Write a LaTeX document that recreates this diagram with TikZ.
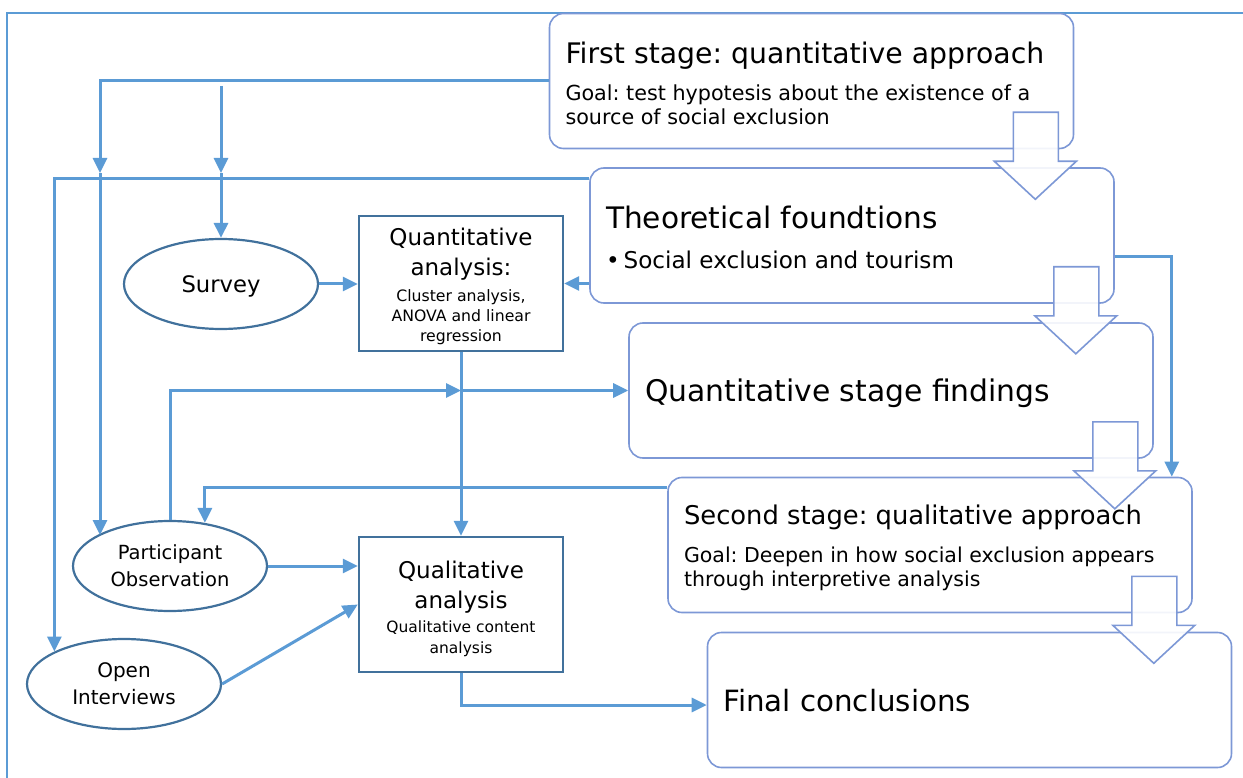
\documentclass[tikz,border=0pt]{standalone}
\usepackage{fontspec}
\setmainfont{DejaVu Sans}
\usepackage{tikz}
\usetikzlibrary{arrows.meta,shapes.geometric}
\definecolor{linkblue}{RGB}{91,155,213}
\definecolor{boxline}{RGB}{125,152,214}
\definecolor{darkline}{RGB}{65,113,156}
\frenchspacing
\newcommand{\stagedown}[1]{\draw[stagearrow] ([xshift=-61pt,yshift=37pt]#1.south east) -- ([xshift=-61pt,yshift=-12pt]#1.south east) -- ([xshift=-80pt,yshift=-12pt]#1.south east) -- ([xshift=-39pt,yshift=-50pt]#1.south east) -- ([xshift=2pt,yshift=-12pt]#1.south east) -- ([xshift=-16pt,yshift=-12pt]#1.south east) -- ([xshift=-16pt,yshift=37pt]#1.south east) -- cycle;}

\begin{document}
\begin{tikzpicture}[x=1pt,y=-1pt]
            \tikzstyle{stagebox}=[draw=boxline, line width=1.6pt, rounded corners=14pt, fill=white, minimum width=524pt, minimum height=135pt, text width=492pt, inner xsep=16pt, align=flush left]
            \tikzstyle{method}=[draw=darkline, line width=2.2pt, ellipse, minimum width=194pt, minimum height=90pt, inner sep=0pt, align=center, font=\fontsize{19.5}{27}\selectfont]
            \tikzstyle{analysis}=[draw=darkline, line width=2.4pt, minimum width=204pt, minimum height=135pt, text width=200pt, inner sep=2pt, align=flush center]
            \tikzstyle{link}=[draw=linkblue, line width=3pt, -{Triangle[length=15pt,width=14pt]}]
            \tikzstyle{stagearrow}=[draw=boxline, line width=1.6pt, fill=white, fill opacity=0.9]
            \useasboundingbox (0,0) rectangle (1243,778);
            \draw[linkblue, line width=2pt] (7,778) -- (7,13) -- (1243,13);
            \node[stagebox] (first) at (811.5,81) {{\fontsize{28.3}{32}\selectfont \rule{0pt}{25.5pt}First stage: quantitative approach\par}\vspace{13pt}{\fontsize{20.7}{24}\selectfont Goal: test hypotesis about the existence of a source of social exclusion\par}};
            \node[stagebox] (theo) at (852,235.5) {{\fontsize{29.6}{34}\selectfont \rule{0pt}{26.5pt}Theoretical foundtions\par}\vspace{13pt}{\fontsize{23.1}{27}\selectfont \textbullet\hspace{4pt}Social exclusion and tourism\par}};
            \node[stagebox, text depth=0pt] (finds) at (891,390.5) {{\fontsize{29.8}{34}\selectfont Quantitative stage findings\par}};
            \node[stagebox] (second) at (930,545) {{\fontsize{25.8}{30}\selectfont \rule{0pt}{25.6pt}Second stage: qualitative approach\par}\vspace{14pt}{\fontsize{20.5}{24}\selectfont Goal: Deepen in how social exclusion appears through interpretive analysis\par}};
            \node[stagebox, text depth=0pt] (final) at (969.5,700) {{\fontsize{29.3}{34}\selectfont Final conclusions\par}};
            \node[analysis] (quant) at (461,283.5) {{\fontsize{23}{30}\selectfont \rule{0pt}{23.5pt}Quantitative\\analysis:\par}\vspace{6pt}{\fontsize{15.7}{20}\selectfont Cluster analysis,\\ANOVA and linear\\regression\par}};
            \node[analysis] (qual) at (461,604.5) {{\fontsize{23}{30}\selectfont \rule{0pt}{25.5pt}Qualitative\\analysis\par}\vspace{3pt}{\fontsize{15.5}{21}\selectfont Qualitative content\\analysis\par}};
            \node[method, font=\fontsize{22.7}{27}\selectfont, text depth=0pt] (survey) at (221,284) {Survey};
            \node[method] (part) at (170,566) {Participant\\Observation};
            \node[method, font=\fontsize{20}{27}\selectfont] (inter) at (124,684) {Open\\Interviews};
            \coordinate (tipA) at (100,173);
            \coordinate (srcB) at (221,86);
            \coordinate (tipB) at (221,173);
            \coordinate (join) at (quant.south |- finds.west);
            \draw[link] (first.west) -| (tipA);
            \draw[link] (tipA) -- (tipA |- part.157);
            \draw[link] (srcB) -- (tipB);
            \draw[link] (tipB) -- (tipB |- survey.north);
            \draw[link] ([yshift=-11pt]theo.north west) -| (inter.155);
            \draw[link] (theo.west |- quant.east) -- (quant.east);
            \draw[link] (survey.east) -- (survey.east -| quant.west);
            \draw[link] (quant.south) -- (qual.north);
            \draw[link] (part.north) |- (join);
            \draw[link] (join) -- (finds.west);
            \draw[link] ([yshift=-11pt]second.north west) -| (part.51);
            \draw[link] (part.east) -- (part.east -| qual.west);
            \draw[link] (inter.east) -- (qual.west);
            \draw[link] (qual.south) |- ([yshift=-5pt]final.west);
            \draw[link] ([yshift=-21pt]theo.east) -| ([xshift=-21pt]second.north east);
            \stagedown{first}
            \stagedown{theo}
            \stagedown{finds}
            \stagedown{second}
        \end{tikzpicture}
\end{document}
